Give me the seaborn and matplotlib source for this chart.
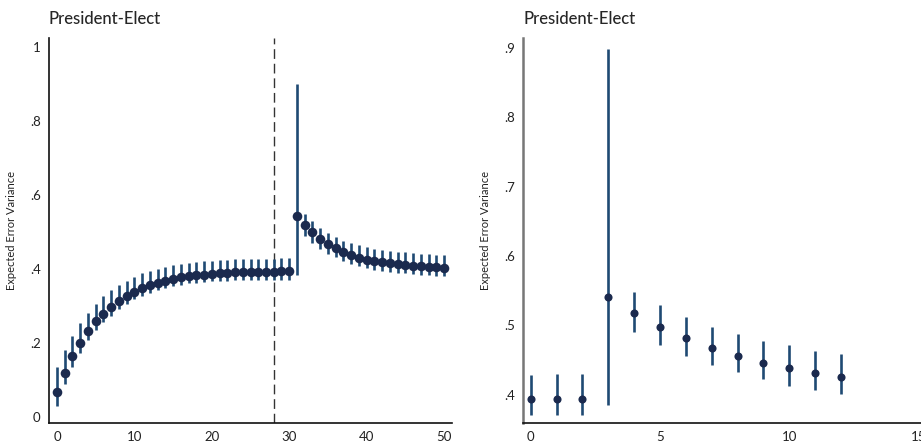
import numpy as np
import pandas as pd
import matplotlib
matplotlib.use("Agg")
import matplotlib.pyplot as plt
import seaborn as sns

# Left panel: full horizon (0..50)
left_x = list(range(51))
left_est = [0.067, 0.120, 0.164, 0.201, 0.233, 0.259, 0.279, 0.298, 0.314, 0.327,
            0.339, 0.349, 0.356, 0.363, 0.369, 0.374, 0.378, 0.381, 0.383, 0.385,
            0.387, 0.388, 0.390, 0.391, 0.392, 0.392, 0.393, 0.393, 0.393, 0.394,
            0.394, 0.542, 0.518, 0.500, 0.482, 0.468, 0.456, 0.446, 0.438, 0.431,
            0.425, 0.421, 0.418, 0.415, 0.413, 0.411, 0.409, 0.407, 0.406, 0.405,
            0.403]
left_lo = [0.030, 0.089, 0.136, 0.174, 0.208, 0.235, 0.256, 0.274, 0.291, 0.305,
           0.318, 0.328, 0.336, 0.343, 0.349, 0.354, 0.358, 0.361, 0.363, 0.365,
           0.367, 0.368, 0.369, 0.370, 0.370, 0.370, 0.371, 0.371, 0.371, 0.371,
           0.371, 0.384, 0.490, 0.471, 0.455, 0.442, 0.432, 0.423, 0.414, 0.408,
           0.402, 0.398, 0.395, 0.392, 0.390, 0.388, 0.386, 0.384, 0.383, 0.382,
           0.380]
left_hi = [0.136, 0.181, 0.219, 0.255, 0.282, 0.305, 0.327, 0.343, 0.357, 0.368,
           0.379, 0.388, 0.395, 0.401, 0.406, 0.410, 0.414, 0.417, 0.419, 0.421,
           0.423, 0.424, 0.425, 0.426, 0.427, 0.427, 0.428, 0.428, 0.428, 0.429,
           0.429, 0.900, 0.548, 0.529, 0.512, 0.498, 0.487, 0.477, 0.471, 0.464,
           0.459, 0.455, 0.452, 0.449, 0.447, 0.445, 0.443, 0.441, 0.440, 0.439,
           0.437]
left_vline = 28

# Right panel: zoom on 0..12
right_x = list(range(13))
right_est = [0.393, 0.393, 0.394, 0.541, 0.517, 0.498, 0.481, 0.467, 0.456,
             0.446, 0.438, 0.431, 0.425]
right_lo = [0.370, 0.370, 0.371, 0.385, 0.490, 0.471, 0.455, 0.442, 0.432,
            0.423, 0.413, 0.407, 0.401]
right_hi = [0.428, 0.429, 0.429, 0.898, 0.548, 0.529, 0.512, 0.498, 0.487,
            0.477, 0.471, 0.463, 0.458]

title = "President-Elect"
ylab = "Expected Error Variance"

sns.set_style("white")
plt.rcParams["font.family"] = ["Lato", "DejaVu Sans"]

bar_col = "#1f4a73"
pt_col = "#1b2a4e"

fig = plt.figure(figsize=(9.21, 4.45), dpi=100)
ax1 = fig.add_axes([0.0532, 0.0494, 0.4376, 0.865])
ax2 = fig.add_axes([0.5679, 0.0494, 0.4321, 0.865])


def draw(ax, x, est, lo, hi, msize, lw):
    df = pd.DataFrame({"x": x, "est": est, "lo": lo, "hi": hi})
    ax.vlines(df["x"], df["lo"], df["hi"], color=bar_col, lw=lw, zorder=2)
    sns.scatterplot(data=df, x="x", y="est", ax=ax, color=pt_col, s=msize,
                    edgecolor=pt_col, linewidth=0, zorder=3, legend=False)


draw(ax1, left_x, left_est, left_lo, left_hi, 48, 1.9)
ax1.axvline(left_vline, color="#333333", lw=1.0, dashes=(7, 3.5), zorder=1)
ax1.set_xlim(-1.03, 51.03)
ax1.set_ylim(-0.016, 1.024)
ax1.set_xticks([0, 10, 20, 30, 40, 50])
ax1.set_xticklabels(["0", "10", "20", "30", "40", "50"])
ax1.set_yticks([0, 0.2, 0.4, 0.6, 0.8, 1.0])
ax1.set_yticklabels(["0", ".2", ".4", ".6", ".8", "1"])

draw(ax2, right_x, right_est, right_lo, right_hi, 34, 1.9)
ax2.set_xlim(-0.3, 15.1)
ax2.set_ylim(0.359, 0.914)
ax2.set_xticks([0, 5, 10, 15])
ax2.set_xticklabels(["0", "5", "10", "15"])
ax2.set_yticks([0.4, 0.5, 0.6, 0.7, 0.8, 0.9])
ax2.set_yticklabels([".4", ".5", ".6", ".7", ".8", ".9"])

for ax in (ax1, ax2):
    sns.despine(ax=ax)
    ax.set_xlabel("")
    ax.set_ylabel(ylab, fontsize=8, color="#222222", labelpad=9)
    ax.set_title(title, loc="left", fontsize=12, fontweight="medium", pad=10)
    ax.tick_params(axis="both", length=0, labelsize=9.5, colors="#222222", pad=6)
    ax.spines["bottom"].set_color("#111111")
    ax.spines["left"].set_color("#111111")
    ax.spines["bottom"].set_linewidth(1.2)
    ax.spines["left"].set_linewidth(1.2)

ax2.spines["left"].set_color("#777777")
ax2.spines["left"].set_linewidth(1.8)

fig.savefig("out.png", dpi=100)
